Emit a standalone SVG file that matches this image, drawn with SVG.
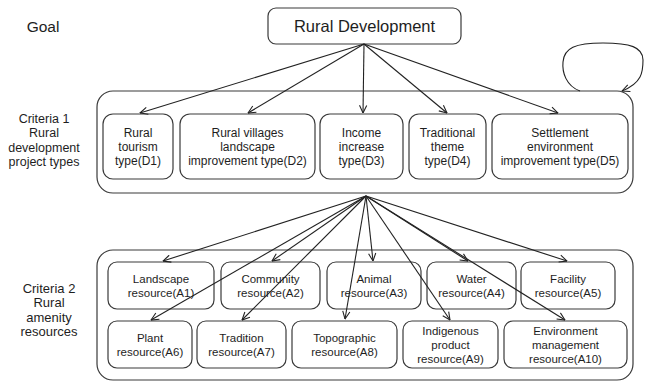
<svg xmlns="http://www.w3.org/2000/svg" width="652" height="382" viewBox="0 0 652 382">
<style>
text{font-family:"Liberation Sans",Arial,sans-serif;fill:#1e1e1e;text-anchor:middle}
.lbl{font-size:12.5px}
.lbl2{font-size:13px}
.d{font-size:12px}
.a{font-size:11.5px}
.box{fill:none;stroke:#3a3a3a;stroke-width:1.2}
.cont{fill:none;stroke:#3a3a3a;stroke-width:1.2}
.c{fill:none;stroke:#222;stroke-width:1.1;marker-end:url(#arr)}
</style>
<defs>
<marker id="arr" markerUnits="userSpaceOnUse" viewBox="0 0 10 10" markerWidth="9" markerHeight="9" refX="9.5" refY="5" orient="auto">
<path d="M1,1 L9.5,5 L1,9" fill="none" stroke="#222" stroke-width="1.2"/>
</marker>
</defs>
<rect width="652" height="382" fill="#fff"/>

<g id="goal-label"><text x="43" y="32" style="font-size:15.5px">Goal</text></g>
<g id="goal"><rect class="box" x="268" y="8" width="193" height="36" rx="8"/><text x="364.5" y="32" style="font-size:16.5px">Rural Development</text></g>

<g id="criteria1-label" class="lbl">
<text x="44" y="122.5">Criteria 1</text><text x="44" y="137">Rural</text><text x="44" y="151.5">development</text><text x="44" y="166">project types</text>
</g>
<g id="criteria1"><rect class="cont" x="97" y="91" width="536" height="102" rx="16"/></g>
<g id="D1" class="d"><rect class="box" x="103" y="114" width="70" height="65" rx="10"/><text x="138" y="137">Rural</text><text x="138" y="151">tourism</text><text x="138" y="165">type(D1)</text></g>
<g id="D2" class="d"><rect class="box" x="180" y="114" width="135" height="65" rx="10"/><text x="247.5" y="137">Rural villages</text><text x="247.5" y="151">landscape</text><text x="247.5" y="165">improvement type(D2)</text></g>
<g id="D3" class="d"><rect class="box" x="320" y="114" width="83" height="65" rx="10"/><text x="361.5" y="137">Income</text><text x="361.5" y="151">increase</text><text x="361.5" y="165">type(D3)</text></g>
<g id="D4" class="d"><rect class="box" x="409" y="114" width="77" height="65" rx="10"/><text x="447.5" y="137">Traditional</text><text x="447.5" y="151">theme</text><text x="447.5" y="165">type(D4)</text></g>
<g id="D5" class="d"><rect class="box" x="492" y="114" width="136" height="65" rx="10"/><text x="560" y="137">Settlement</text><text x="560" y="151">environment</text><text x="560" y="165">improvement type(D5)</text></g>

<g id="criteria2-label" class="lbl2">
<text x="49" y="292.5">Criteria 2</text><text x="49" y="307">Rural</text><text x="49" y="321.5">amenity</text><text x="49" y="336">resources</text>
</g>
<g id="criteria2"><rect class="cont" x="97" y="250" width="536" height="130" rx="16"/></g>
<g id="A1" class="a"><rect class="box" x="108" y="262" width="106" height="47" rx="9"/><text x="161" y="282.5">Landscape</text><text x="161" y="296.5">resource(A1)</text></g>
<g id="A2" class="a"><rect class="box" x="221" y="262" width="99" height="47" rx="9"/><text x="270.5" y="282.5">Community</text><text x="270.5" y="296.5">resource(A2)</text></g>
<g id="A3" class="a"><rect class="box" x="327" y="262" width="94" height="47" rx="9"/><text x="374" y="282.5">Animal</text><text x="374" y="296.5">resource(A3)</text></g>
<g id="A4" class="a"><rect class="box" x="427" y="262" width="89" height="47" rx="9"/><text x="471.5" y="282.5">Water</text><text x="471.5" y="296.5">resource(A4)</text></g>
<g id="A5" class="a"><rect class="box" x="521" y="262" width="94" height="47" rx="9"/><text x="568" y="282.5">Facility</text><text x="568" y="296.5">resource(A5)</text></g>
<g id="A6" class="a"><rect class="box" x="108" y="321" width="84" height="47" rx="9"/><text x="150" y="341.5">Plant</text><text x="150" y="355.5">resource(A6)</text></g>
<g id="A7" class="a"><rect class="box" x="197" y="321" width="89" height="47" rx="9"/><text x="241.5" y="341.5">Tradition</text><text x="241.5" y="355.5">resource(A7)</text></g>
<g id="A8" class="a"><rect class="box" x="292" y="321" width="105" height="47" rx="9"/><text x="344.5" y="341.5">Topographic</text><text x="344.5" y="355.5">resource(A8)</text></g>
<g id="A9" class="a"><rect class="box" x="403" y="321" width="95" height="47" rx="9"/><text x="450.5" y="334.5">Indigenous</text><text x="450.5" y="348.5">product</text><text x="450.5" y="362.5">resource(A9)</text></g>
<g id="A10" class="a"><rect class="box" x="504" y="321" width="123" height="47" rx="9"/><text x="565.5" y="334.5">Environment</text><text x="565.5" y="348.5">management</text><text x="565.5" y="362.5">resource(A10)</text></g>

<g id="connectors">
<line class="c" x1="364" y1="44" x2="140" y2="113"/>
<line class="c" x1="364" y1="44" x2="248" y2="113"/>
<line class="c" x1="364" y1="44" x2="363" y2="113"/>
<line class="c" x1="364" y1="44" x2="447" y2="113"/>
<line class="c" x1="364" y1="44" x2="558" y2="113"/>
<path class="c" d="M580,91 C566,86 562,72 563,62 C564,48 575,43 603,43 C630,43 643,47 643,60 C643,72 642,83 622,91"/>
<line class="c" x1="366" y1="196" x2="163" y2="261"/>
<line class="c" x1="366" y1="196" x2="272" y2="261"/>
<line class="c" x1="366" y1="196" x2="373" y2="261"/>
<line class="c" x1="366" y1="196" x2="468" y2="261"/>
<line class="c" x1="366" y1="196" x2="567" y2="261"/>
<line class="c" x1="366" y1="196" x2="151" y2="320"/>
<line class="c" x1="366" y1="196" x2="242" y2="320"/>
<line class="c" x1="366" y1="196" x2="345" y2="319"/>
<line class="c" x1="366" y1="196" x2="450" y2="320"/>
<line class="c" x1="366" y1="196" x2="565" y2="320"/>
</g>
</svg>
